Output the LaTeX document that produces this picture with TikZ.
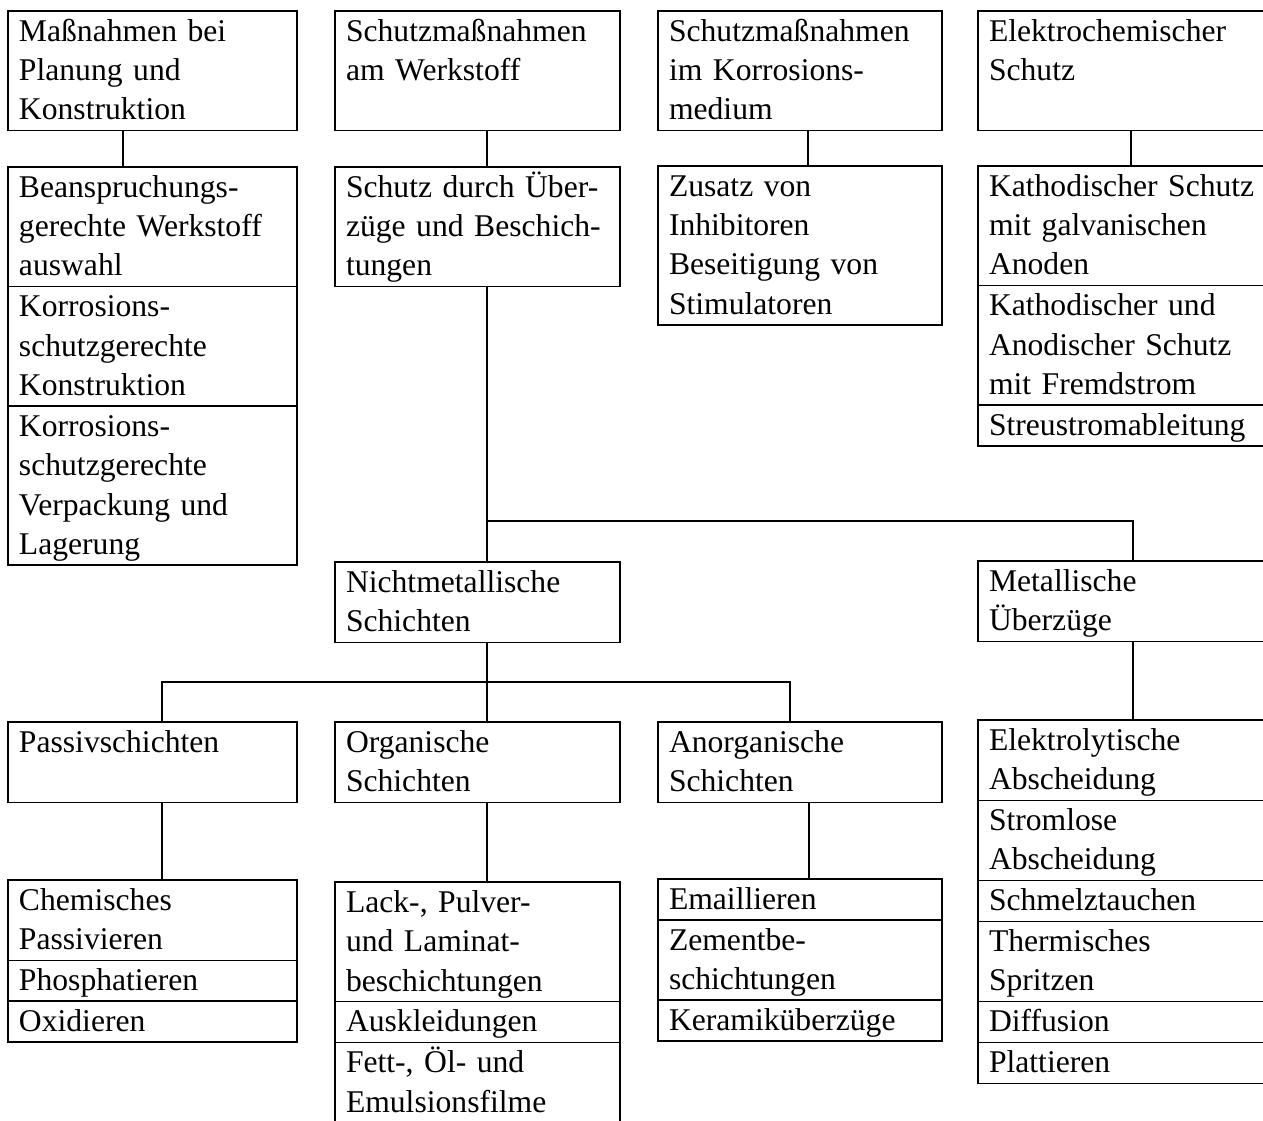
\documentclass[tikz,border=0pt]{standalone}
\usepackage{fontspec}
\setmainfont{Liberation Serif}
\usepackage{tikz}
\usetikzlibrary{positioning}
\newcommand{\cellfont}{\fontsize{18}{22.4}\selectfont\hyphenpenalty10000\relax}
\newcommand{\cellstrut}{\rule[-0.25\baselineskip]{0pt}{\baselineskip}}
\tikzset{
    auto, node distance=0pt and 0pt,% boxes of one list sit edge to edge
    cell/.style={draw, rectangle, line width=0.8pt, anchor=north west, align=left,
        inner xsep=0.22cm, inner ysep=0.015cm, outer sep=0pt, text width=#1, font=\cellfont,
        execute at begin node=\cellstrut, execute at end node=\cellstrut},
    cell/.default=5.26cm,
    link/.style={line width=0.8pt},
}

\begin{document}
\begin{tikzpicture}[x=0.02cm, y=-0.02cm]
    \useasboundingbox (0,0) rectangle (1263,1120);
    % top row
    \node[cell=5.34cm] (p1) at (8,11) {Maßnahmen bei\\Planung und\\Konstruktion};
    \node[cell] (w1) at (335,11) {Schutzmaßnahmen\\am Werkstoff\\};
    \node[cell=5.24cm] (k1) at (658,11) {Schutzmaßnahmen\\im Korrosions-\\medium};
    \node[cell=5.36cm] (e1) at (978,11) {Elektrochemischer\\Schutz\\};
    % second row
    \node[cell=5.34cm] (p2) at (8,167) {Beanspruchungs-\\gerechte Werkstoff\\auswahl};
    \node[cell=5.34cm, below=of p2] (p3) {Korrosions-\\schutzgerechte\\Konstruktion};
    \node[cell=5.34cm, below=of p3] (p4) {Korrosions-\\schutzgerechte\\Verpackung und\\Lagerung};
    \node[cell] (w2) at (335,167) {Schutz durch Über-\\züge und Beschich-\\tungen};
    \node[cell=5.24cm] (k2) at (658,166) {Zusatz von\\Inhibitoren\\Beseitigung von\\Stimulatoren};
    \node[cell=5.36cm] (e2) at (978,166) {Kathodischer Schutz\\mit galvanischen\\Anoden};
    \node[cell=5.36cm, below=of e2] (e3) {Kathodischer und\\Anodischer Schutz\\mit Fremdstrom};
    \node[cell=5.36cm, below=of e3] (e4) {Streustromableitung};
    % coatings
    \node[cell] (nm) at (335,562) {Nichtmetallische\\Schichten};
    \node[cell=5.36cm] (me) at (978,561) {Metallische\\Überzüge};
    \node[cell=5.34cm] (ps) at (8,722) {Passivschichten\\};
    \node[cell] (og) at (335,722) {Organische\\Schichten};
    \node[cell=5.24cm] (an) at (658,722) {Anorganische\\Schichten};
    \node[cell=5.36cm] (m1) at (978,720) {Elektrolytische\\Abscheidung};
    \node[cell=5.36cm, below=of m1] (m2) {Stromlose\\Abscheidung};
    \node[cell=5.36cm, below=of m2] (m3) {Schmelztauchen};
    \node[cell=5.36cm, below=of m3] (m4) {Thermisches\\Spritzen};
    \node[cell=5.36cm, below=of m4] (m5) {Diffusion};
    \node[cell=5.36cm, below=of m5] (m6) {Plattieren};
    % bottom row
    \node[cell=5.34cm] (c1) at (8,880) {Chemisches\\Passivieren};
    \node[cell=5.34cm, below=of c1] (c2) {Phosphatieren};
    \node[cell=5.34cm, below=of c2] (c3) {Oxidieren};
    \node[cell] (l1) at (335,882) {Lack-, Pulver-\\und Laminat-\\beschichtungen};
    \node[cell, below=of l1] (l2) {Auskleidungen};
    \node[cell, below=of l2] (l3) {Fett-, Öl- und\\Emulsionsfilme};
    \node[cell=5.24cm] (z1) at (658,879) {Emaillieren};
    \node[cell=5.24cm, below=of z1] (z2) {Zementbe-\\schichtungen};
    \node[cell=5.24cm, below=of z2] (z3) {Keramiküberzüge};

    % connectors
    \draw[link] (p1.south west) ++(115,0) coordinate (a1) -- (a1 |- p2.north);
    \draw[link] (w1.south west) ++(152,0) coordinate (a2) -- (a2 |- w2.north);
    \draw[link] (k1.south west) ++(150,0) coordinate (a3) -- (a3 |- k2.north);
    \draw[link] (e1.south west) ++(153,0) coordinate (a4) -- (a4 |- e2.north);
    \draw[link] (a2 |- w2.south) -- (a2 |- nm.north);
    \coordinate (j1) at ([xshift=3.1cm, yshift=0.8cm]me.north west);
    \draw[link] (a2 |- j1) -- (j1) -- (j1 |- me.north);
    \draw[link] (a2 |- nm.south) -- (a2 |- og.north);
    \coordinate (j2) at ([xshift=3.08cm, yshift=0.8cm]ps.north west);
    \coordinate (j3) at ([xshift=2.64cm, yshift=0.8cm]an.north west);
    \draw[link] (j2 |- ps.north) -- (j2) -- (j3) -- (j3 |- an.north);
    \draw[link] (j2 |- ps.south) -- (j2 |- c1.north);
    \draw[link] (a2 |- og.south) -- (a2 |- l1.north);
    \draw[link] (an.south west) ++(151,0) coordinate (a5) -- (a5 |- z1.north);
    \draw[link] (j1 |- me.south) -- (j1 |- m1.north);
\end{tikzpicture}
\end{document}
